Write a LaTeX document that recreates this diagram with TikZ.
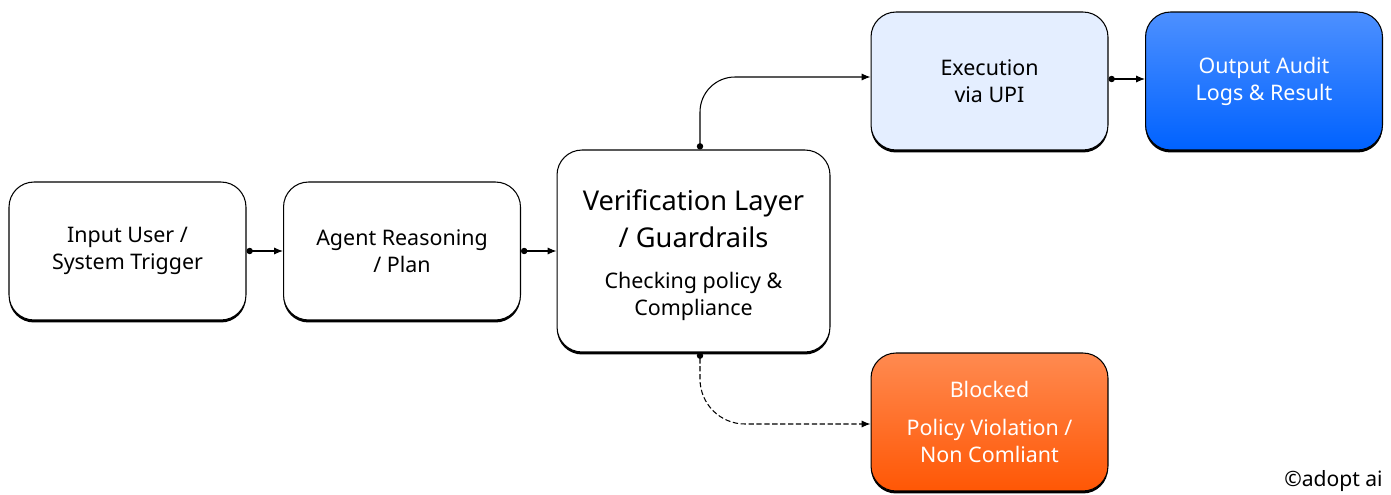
\documentclass[tikz,border=0pt]{standalone}
\usepackage{fontspec}
\setmainfont{Noto Sans}
\usetikzlibrary{arrows.meta,shadows}
\definecolor{execfill}{HTML}{E4EEFF}
\definecolor{outtop}{HTML}{4D90FF}
\definecolor{outbot}{HTML}{0062FF}
\definecolor{blocktop}{HTML}{FF8A50}
\definecolor{blockbot}{HTML}{FF5705}
\newcommand{\subtxt}{\fontsize{12.2}{15.3}\selectfont}
\tikzset{
  stepbox/.style={draw=black, line width=0.6pt, rounded corners=0.5cm, fill=white,
    align=center, minimum width=4.74cm, minimum height=2.76cm,
    font=\fontsize{12.2}{15.3}\selectfont,
    drop shadow={shadow xshift=0pt, shadow yshift=-0.05cm, opacity=1, fill=black}},
  flow/.style={{Circle[length=3.6pt]}-{Latex[length=5pt,width=4pt]}, line width=0.6pt},
}
\begin{document}
\begin{tikzpicture}[x=0.02cm, y=-0.02cm]
    \useasboundingbox (0,0) rectangle (1391,494);
    % Main chain
    \node[stepbox] (input) at (127.5,251) {Input User /\\System Trigger};
    \node[stepbox] (agent) at (402,251) {Agent Reasoning\\/ Plan};
    \node[stepbox, minimum width=5.46cm, minimum height=4.04cm,
          font=\fontsize{15.5}{21.5}\selectfont] (verify) at (693.5,251)
        {\rule{0pt}{16.4pt}Verification Layer\\/ Guardrails\\[1.7pt]
         {\subtxt Checking policy \&}\\[-6.2pt]{\subtxt Compliance}};
    % Outcomes
    \node[stepbox, fill=execfill] (exec) at (989.5,81) {Execution\\via UPI};
    \node[stepbox, top color=outtop, bottom color=outbot, text=white] (output) at (1264,81)
        {Output Audit\\Logs \& Result};
    \node[stepbox, top color=blocktop, bottom color=blockbot, text=white] (blocked) at (989.5,422)
        {Blocked\\[6pt]Policy Violation /\\Non Comliant};
    % Connectors
    \draw[flow] (input) -- (agent);
    \draw[flow] (agent) -- (verify);
    \draw[flow, rounded corners=0.7cm] ([xshift=0.13cm]verify.north) |- ([yshift=0.08cm]exec.west);
    \draw[flow] ([yshift=0.04cm]exec.east) -- ([yshift=0.04cm]output.west);
    \draw[flow, dash pattern=on 3pt off 1.5pt, rounded corners=0.9cm]
        ([xshift=0.13cm]verify.south) |- ([yshift=-0.04cm]blocked.west);
    \node[anchor=south east, inner sep=0pt, font=\fontsize{12}{14}\selectfont] (credit)
        at (1383,492) {©adopt ai};
\end{tikzpicture}
\end{document}
